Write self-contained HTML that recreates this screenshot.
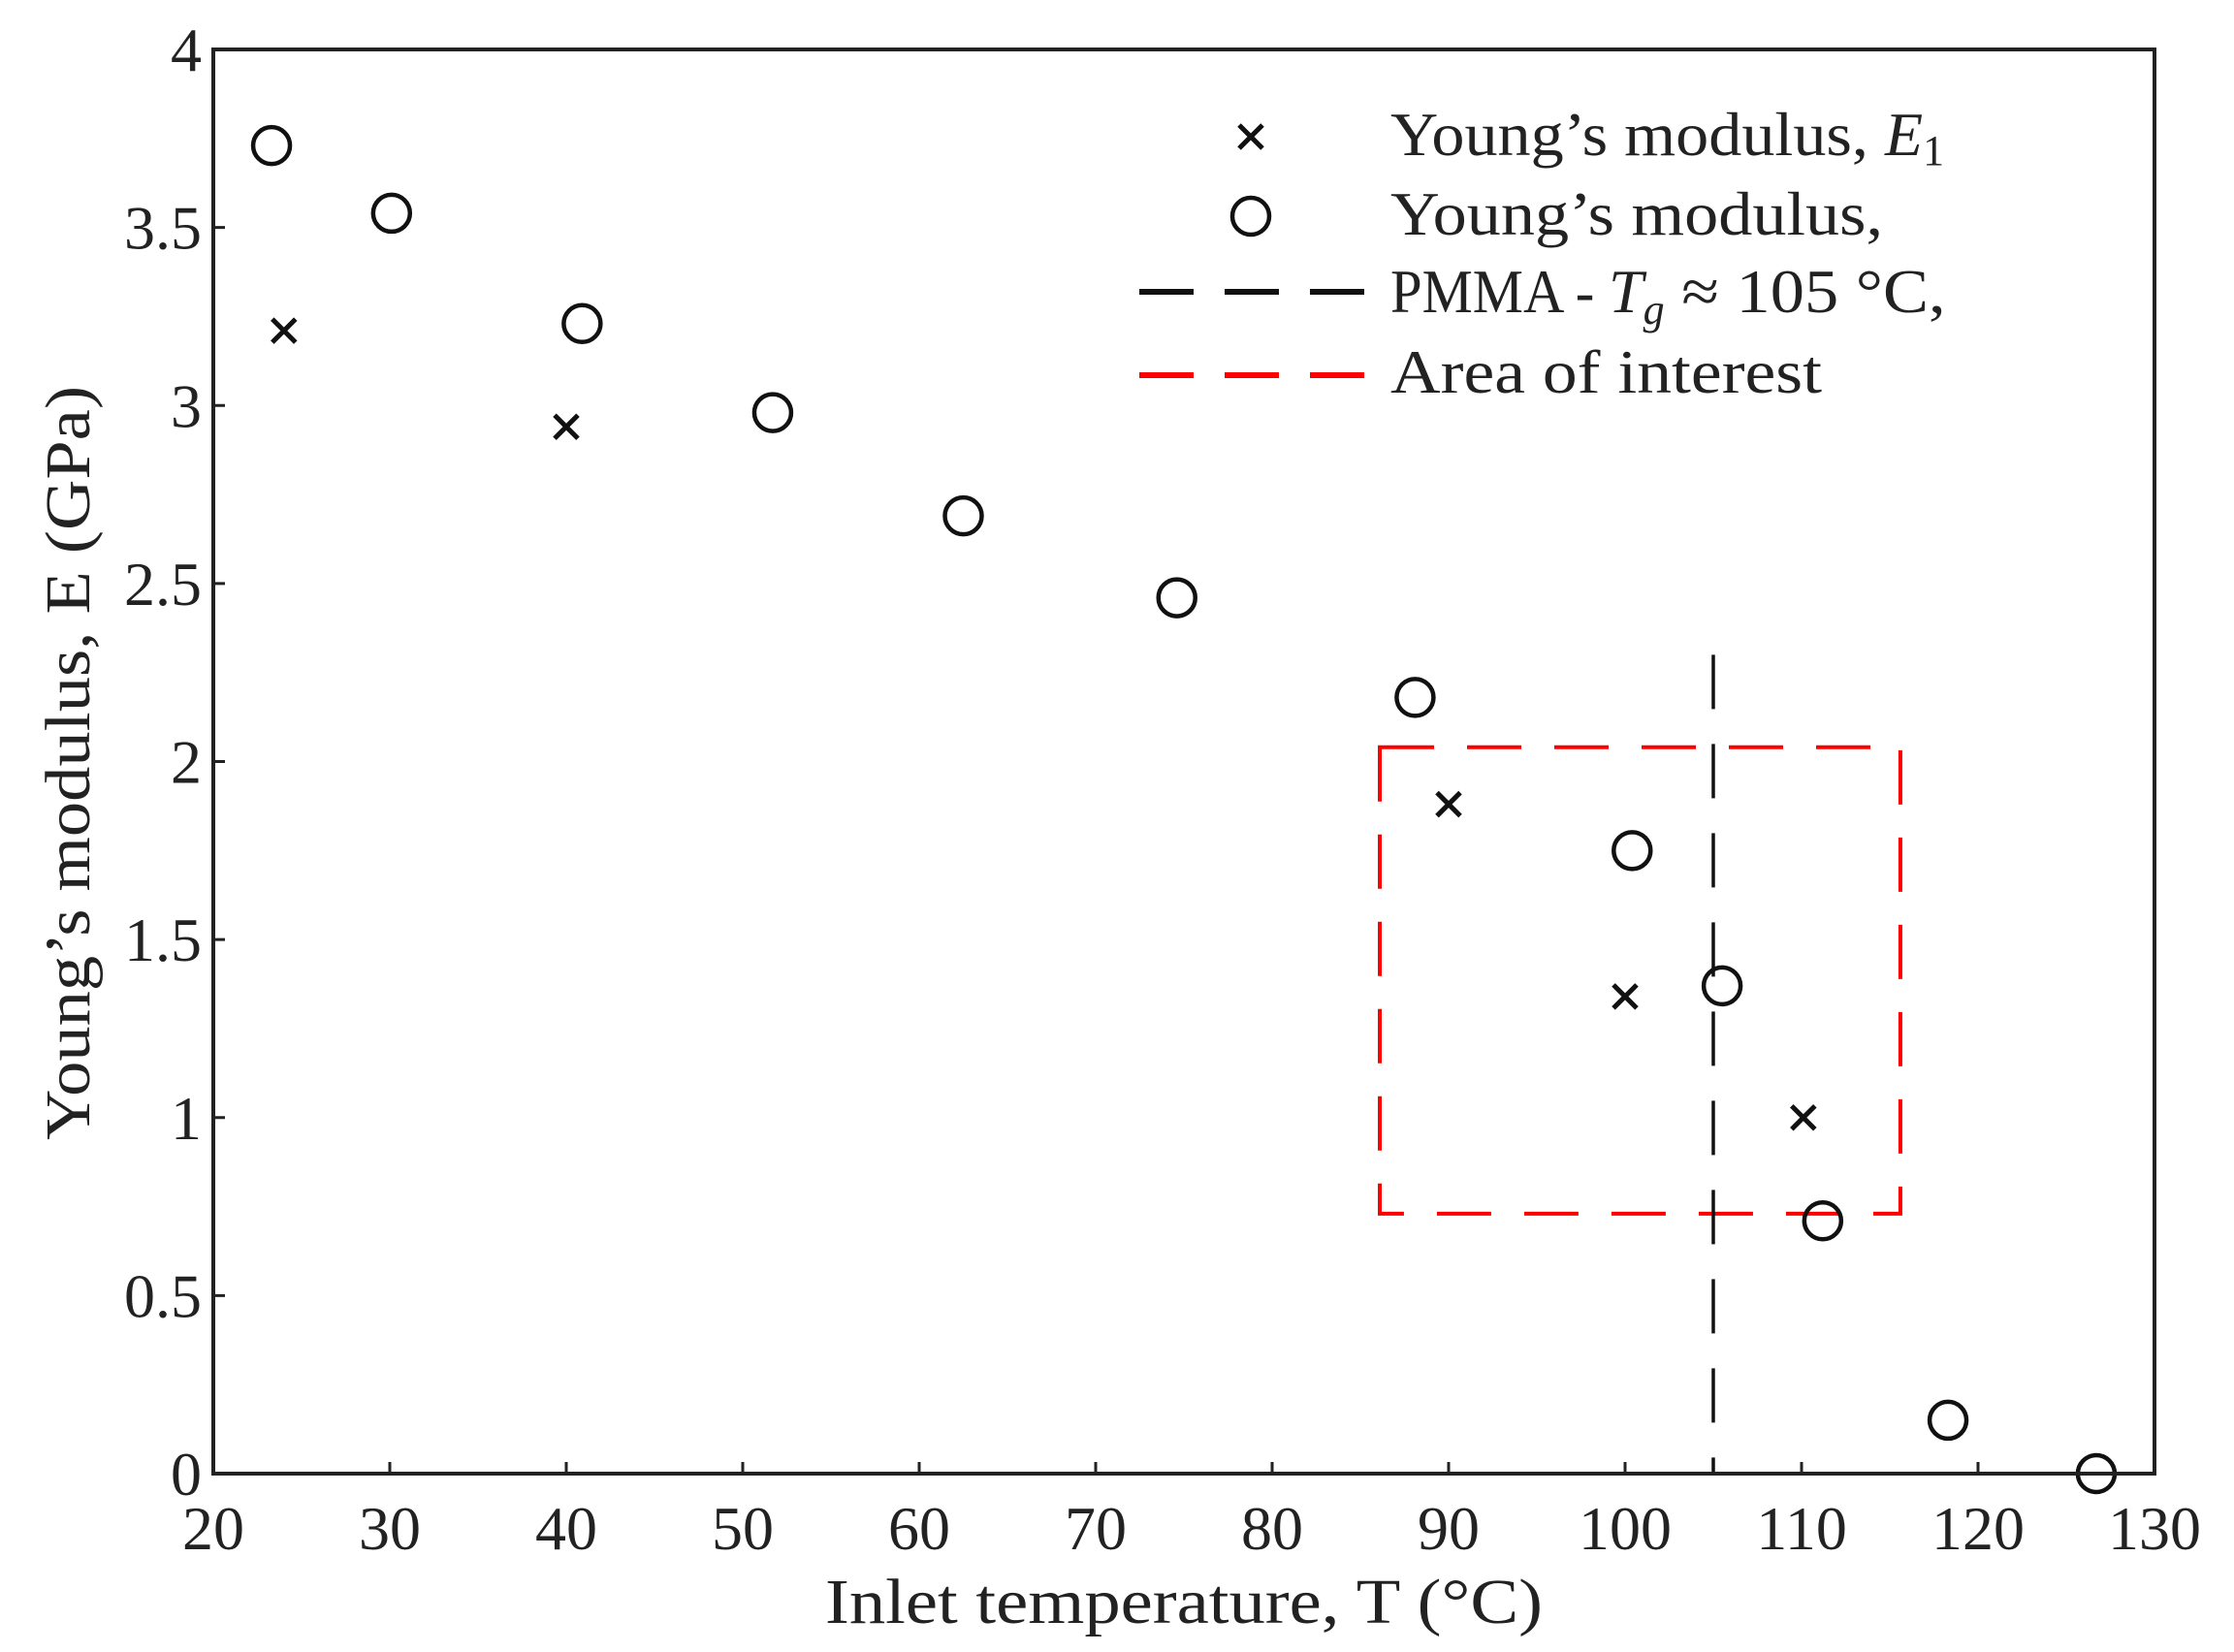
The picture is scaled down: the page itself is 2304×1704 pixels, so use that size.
<!DOCTYPE html>
<html><head><meta charset="utf-8">
<style>
html,body{margin:0;padding:0;background:#fff;}
svg{display:block;font-family:"Liberation Serif","DejaVu Serif",serif;}
</style></head>
<body>
<svg id="chart" width="2304" height="1704" viewBox="0 0 2304 1704"></svg>
<script>
const xTicks = [20,30,40,50,60,70,80,90,100,110,120,130];
const yTicks = [0,0.5,1,1.5,2,2.5,3,3.5,4];
const yTickLabels = ["0","0.5","1","1.5","2","2.5","3","3.5","4"];
const circleT = [23.3,30.1,40.9,51.7,62.5,74.6,88.1,100.4,105.5,111.2,118.3,126.7];
const circleE = [3.73,3.54,3.23,2.98,2.69,2.46,2.18,1.75,1.37,0.71,0.15,0.0];
const crossT = [24.0,40.0,90.0,100.0,110.1];
const crossE = [3.21,2.94,1.88,1.34,1.00];
const tgValue = [105];
const tgTop = [2.3];
const areaT = [86.1,115.6];
const areaE = [0.73,2.04];

const L=220,R=2222,T=51,B=1520;
const xMin=20,xMax=130,yMin=0,yMax=4;
function sx(v){return L+(v-xMin)/(xMax-xMin)*(R-L);}
function sy(v){return B-(v-yMin)/(yMax-yMin)*(B-T);}
const NS="http://www.w3.org/2000/svg";
const svg=document.getElementById('chart');
function mk(tag,attrs,parent){const e=document.createElementNS(NS,tag);for(const k in attrs)e.setAttribute(k,attrs[k]);(parent||svg).appendChild(e);return e;}

xTicks.forEach((v,i)=>{
  const x=sx(v);
  if(i>0&&i<xTicks.length-1){
    const t=mk('line',{x1:x,x2:x,y1:B,y2:B-12,stroke:'#222','stroke-width':3});
    
    
  }
  const lb=mk('text',{x:x,y:1598,'font-size':64,'text-anchor':'middle',fill:'#222'});
  lb.textContent=v;
  
  
});
yTicks.forEach((v,i)=>{
  const y=sy(v);
  if(i>0&&i<yTicks.length-1){
    const t=mk('line',{x1:L,x2:L+12,y1:y,y2:y,stroke:'#222','stroke-width':3});
    
    
  }
  const lb=mk('text',{x:208,y:y+22,'font-size':64,'text-anchor':'end',fill:'#222'});
  lb.textContent=yTickLabels[i];
  
  
});

const area=mk('rect',{x:sx(areaT[0]),y:sy(areaE[1]),width:sx(areaT[1])-sx(areaT[0]),height:sy(areaE[0])-sy(areaE[1]),fill:'none',stroke:'#ff0000','stroke-width':4,'stroke-dasharray':'56 34'});



const tg=mk('line',{x1:sx(tgValue[0]),x2:sx(tgValue[0]),y1:sy(tgTop[0]),y2:B,stroke:'#111','stroke-width':3.5,'stroke-dasharray':'56 36'});



circleT.forEach((t,i)=>{
  const c=mk('circle',{cx:sx(t),cy:sy(circleE[i]),r:19,fill:'none',stroke:'#111','stroke-width':4.5});
  
  
});
crossT.forEach((t,i)=>{
  const x=sx(t),y=sy(crossE[i]),h=12;
  const p=mk('path',{d:`M${x-h} ${y-h}L${x+h} ${y+h}M${x-h} ${y+h}L${x+h} ${y-h}`,stroke:'#111','stroke-width':5,fill:'none'});
  
  
});
</script>
<svg style="position:absolute;left:0;top:0" width="2304" height="1704">
  <rect x="220" y="51" width="2002" height="1469" fill="none" stroke="#222" stroke-width="4"/>
  <g font-family="Liberation Serif, DejaVu Serif, serif" font-size="64" fill="#222">
    <path d="M1278 129L1302 153M1278 153L1302 129" stroke="#111" stroke-width="5"/>
    <text x="1434" y="160"><tspan textLength="510" lengthAdjust="spacingAndGlyphs">Young’s modulus, </tspan><tspan font-style="italic">E</tspan><tspan font-size="44" dy="10">1</tspan></text>
    <circle cx="1290" cy="223" r="19" fill="none" stroke="#111" stroke-width="4.5"/>
    <text x="1434" y="242" textLength="508" lengthAdjust="spacingAndGlyphs">Young’s modulus,</text>
    <line x1="1175" x2="1408" y1="301" y2="301" stroke="#111" stroke-width="6" stroke-dasharray="56 32"/>
    <text x="1434" y="322"><tspan textLength="225" lengthAdjust="spacingAndGlyphs">PMMA - </tspan><tspan font-style="italic">T</tspan><tspan font-style="italic" font-size="44" dy="12">g</tspan><tspan dy="-12" textLength="290" lengthAdjust="spacingAndGlyphs"> ≈ 105 °C,</tspan></text>
    <line x1="1175" x2="1408" y1="387" y2="387" stroke="#ff0000" stroke-width="6" stroke-dasharray="56 32"/>
    <text x="1434" y="405" textLength="445" lengthAdjust="spacingAndGlyphs">Area of interest</text>
  </g>
  <text x="851" y="1674" textLength="740" lengthAdjust="spacingAndGlyphs" font-family="Liberation Serif, DejaVu Serif, serif" font-size="66" fill="#222">Inlet temperature, T (°C)</text>
  <text transform="translate(92,1176) rotate(-90)" textLength="778" lengthAdjust="spacingAndGlyphs" font-family="Liberation Serif, DejaVu Serif, serif" font-size="66" fill="#222">Young’s modulus, E (GPa)</text>
</svg>
</body></html>
